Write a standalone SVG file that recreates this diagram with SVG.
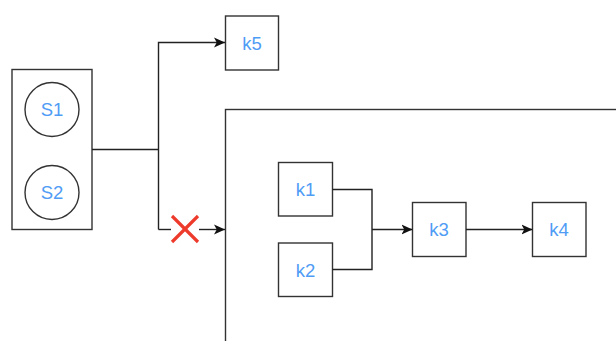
<svg xmlns="http://www.w3.org/2000/svg" width="616" height="341" viewBox="0 0 616 341">
  <style>
    .box { fill: #ffffff; stroke: #333333; stroke-width: 1.4; }
    .lbl { font-family: "Liberation Sans", Arial, sans-serif; font-size: 18.5px; fill: #4f9cf5; text-anchor: middle; dominant-baseline: central; }
    .wire { fill: none; stroke: #222222; stroke-width: 1.4; }
    .cross { stroke: #ee3a2b; stroke-width: 3.2; stroke-linecap: butt; }
  </style>
  <defs>
    <marker id="arrow" viewBox="0 0 10 10" refX="10" refY="5" markerWidth="11" markerHeight="11" markerUnits="userSpaceOnUse" orient="auto">
      <path d="M0,0.5 L10,5 L0,9.5 L2.5,5 Z" fill="#111111"/>
    </marker>
  </defs>
  <rect width="616" height="341" fill="#ffffff"/>

  <!-- large container on the right -->
  <g id="container">
    <rect class="box" x="225.5" y="109.5" width="420" height="260"/>
  </g>

  <!-- source group with two circles -->
  <g id="sources">
    <rect class="box" x="12" y="69.5" width="80" height="160"/>
  </g>
  <g id="S1">
    <circle class="box" cx="52" cy="109.5" r="27"/>
    <text class="lbl" x="52" y="109.5">S1</text>
  </g>
  <g id="S2">
    <circle class="box" cx="52" cy="192.5" r="27"/>
    <text class="lbl" x="52" y="192.5">S2</text>
  </g>

  <g id="k5">
    <rect class="box" x="225.5" y="16" width="53" height="54"/>
    <text class="lbl" x="252" y="43">k5</text>
  </g>
  <g id="k1">
    <rect class="box" x="278.5" y="162.5" width="54" height="53.5"/>
    <text class="lbl" x="305.5" y="189.5">k1</text>
  </g>
  <g id="k2">
    <rect class="box" x="278.5" y="243" width="54" height="53.5"/>
    <text class="lbl" x="305.5" y="270">k2</text>
  </g>
  <g id="k3">
    <rect class="box" x="412.5" y="202.5" width="53.5" height="54"/>
    <text class="lbl" x="439" y="229.5">k3</text>
  </g>
  <g id="k4">
    <rect class="box" x="532.5" y="202.5" width="53.5" height="54"/>
    <text class="lbl" x="559" y="229.5">k4</text>
  </g>

  <g id="connectors">
    <path class="wire" d="M92,149.5 H158.5"/>
    <path class="wire" d="M158.5,229.5 V42.5 H225" marker-end="url(#arrow)"/>
    <path class="wire" d="M158.5,229.5 H171"/>
    <path class="wire" d="M199,229.5 H225" marker-end="url(#arrow)"/>
    <path class="wire" d="M332.5,189.5 H372 V269.5 H332.5"/>
    <path class="wire" d="M372,229.5 H412.5" marker-end="url(#arrow)"/>
    <path class="wire" d="M466,229.5 H532.5" marker-end="url(#arrow)"/>
  </g>

  <!-- blocked path marker -->
  <g id="blocked">
    <line class="cross" x1="172" y1="216" x2="198" y2="242"/>
    <line class="cross" x1="198" y1="216" x2="172" y2="242"/>
  </g>
</svg>
